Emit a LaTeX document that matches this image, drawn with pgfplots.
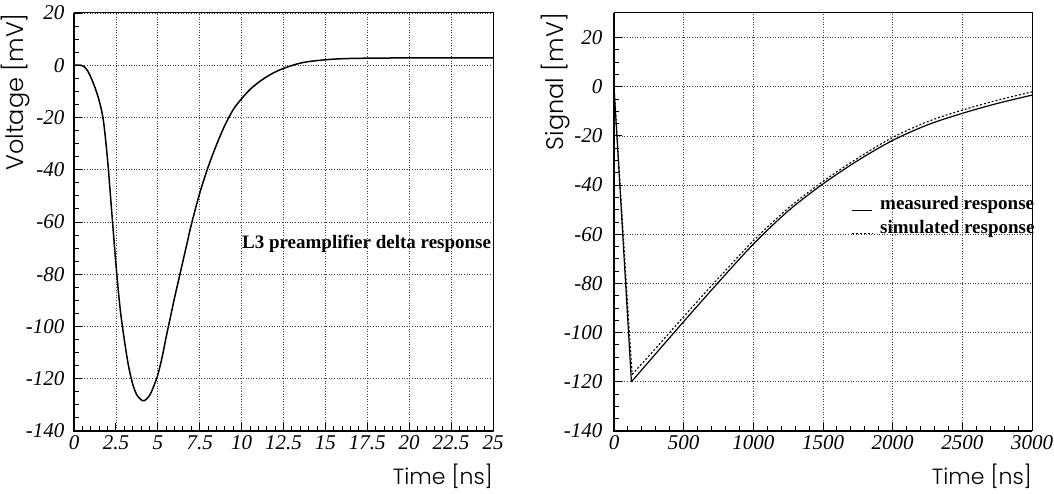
\documentclass[border=0pt]{standalone}
\usepackage{fontspec}
\setmainfont{Liberation Serif}
\newfontfamily\gothic{Poppins}[UprightFont={* Light}]
\usepackage{pgfplots}
\pgfplotsset{compat=1.18}

\pgfplotsset{
  panel/.style={
    scale only axis,
    anchor=south west,
    height=418pt,
    axis line style={line width=1pt},
    tick align=inside,
    xtick pos=bottom, ytick pos=left,
    major tick length=8pt, minor tick length=5pt,
    every tick/.style={black, line width=0.9pt},
    grid=major,
    major grid style={black!75, line width=0.7pt, dash pattern=on 1pt off 1.6pt},
    tick label style={font=\fontsize{21}{21}\selectfont\itshape},
    /pgf/number format/assume math mode=true,
    /pgf/number format/1000 sep={},
    scaled ticks=false,
    xticklabel style={yshift=-1pt},
    yticklabel style={xshift=-6pt},
    clip=false,
  },
}

\begin{document}
\begin{tikzpicture}[x=1pt,y=1pt]
\useasboundingbox (0,0) rectangle (1054,494);

% left panel: preamplifier delta response
\begin{axis}[panel,
    at={(74pt,63pt)}, width=419pt,
    xmin=0, xmax=25, ymin=-140, ymax=20,
    xtick={0,2.5,5,7.5,10,12.5,15,17.5,20,22.5,25},
    xticklabels={0,2.5,5,7.5,10,12.5,15,17.5,20,22.5,25},
    ytick={-140,-120,-100,-80,-60,-40,-20,0,20},
    minor x tick num=4, minor y tick num=3]
\addplot[black, line width=1.5pt, smooth] coordinates {
  (0,0) (0.4,0) (0.6,-0.5) (0.8,-2) (1.0,-4.5) (1.25,-8.5) (1.5,-13.5)
  (1.75,-21) (2.0,-36) (2.25,-56) (2.5,-76) (2.75,-93) (3.0,-105)
  (3.25,-115) (3.5,-122) (3.75,-126.2) (4.0,-128) (4.2,-128.4) (4.5,-126.5)
  (4.75,-123) (5.0,-118.5) (5.25,-112) (5.5,-104) (5.75,-96.5) (6.0,-89)
  (6.25,-82) (6.5,-75) (6.75,-68) (7.0,-61) (7.5,-49) (8.0,-39) (8.5,-30.5)
  (9.0,-23) (9.5,-17) (10,-12.8) (10.5,-9.3) (11,-6.6) (11.5,-4.4)
  (12,-2.6) (12.5,-1.2) (13,-0.1) (13.5,0.8) (14,1.4) (15,2.1) (16,2.5)
  (17.5,2.7) (20,2.8) (25,2.8)
};
\node[anchor=base west, inner sep=0pt, font=\bfseries\fontsize{19}{19}\selectfont]
  at (axis cs:10.02,-70.1) {L3 preamplifier delta response};
\draw[line width=2pt] (rel axis cs:0,1) -- (rel axis cs:0,0) -- (rel axis cs:1,0);
\end{axis}

% right panel: measured vs simulated
\begin{axis}[panel,
    at={(614pt,63pt)}, width=418pt,
    xmin=0, xmax=3000, ymin=-140, ymax=30,
    xtick={0,500,1000,1500,2000,2500,3000},
    ytick={-140,-120,-100,-80,-60,-40,-20,0,20},
    yticklabel style={xshift=-2pt},
    minor x tick num=4, minor y tick num=3]
\addplot[black, line width=1.2pt] coordinates {(0,0) (125,-120)};
\addplot[black, line width=1.2pt, smooth] coordinates {
  (125,-120) (250,-111.8) (500,-95.5) (750,-79.5) (1000,-64) (1250,-50.5)
  (1500,-39.5) (1750,-30) (2000,-21.8) (2250,-15.5) (2500,-10.8)
  (2750,-6.8) (3000,-3.4)
};
\addplot[black, line width=1.1pt, dash pattern=on 2pt off 2pt] coordinates {(0,0) (130,-117)};
\addplot[black, line width=1.1pt, dash pattern=on 2pt off 2pt, smooth] coordinates {
  (130,-117) (250,-109.5) (500,-93.5) (750,-77.8) (1000,-62.6) (1250,-49.4)
  (1500,-38.5) (1750,-29) (2000,-20.6) (2250,-14.2) (2500,-9.5)
  (2750,-5.5) (3000,-2.1)
};
\draw[black, line width=1.2pt] (axis cs:1708,-50.2) -- (axis cs:1852,-50.2);
\draw[black, line width=1.1pt, dash pattern=on 2pt off 2pt] (axis cs:1708,-59.5) -- (axis cs:1852,-59.5);
\node[anchor=base west, inner sep=0pt, font=\bfseries\fontsize{19}{19}\selectfont]
  at (axis cs:1909,-49.8) {measured response};
\node[anchor=base west, inner sep=0pt, font=\bfseries\fontsize{19}{19}\selectfont]
  at (axis cs:1909,-59.5) {simulated response};
\draw[line width=2pt] (rel axis cs:0,1) -- (rel axis cs:0,0) -- (rel axis cs:1,0);
\end{axis}

% axis titles
\node[rotate=90, anchor=south east, inner sep=0pt, font=\gothic\fontsize{24}{24}\selectfont]
  at (30,481) {Voltage [mV]};
\node[rotate=90, anchor=south east, inner sep=0pt, font=\gothic\fontsize{24}{24}\selectfont]
  at (570,481) {Signal [mV]};
\node[anchor=base east, inner sep=0pt, font=\gothic\fontsize{22}{22}\selectfont]
  at (493,9) {Time [ns]};
\node[anchor=base east, inner sep=0pt, font=\gothic\fontsize{22}{22}\selectfont]
  at (1032,9) {Time [ns]};
\end{tikzpicture}
\end{document}
